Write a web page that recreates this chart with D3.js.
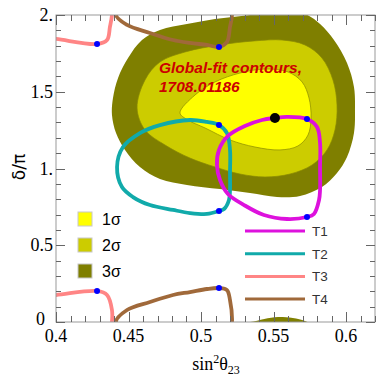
<!DOCTYPE html>
<html>
<head>
<meta charset="utf-8">
<script src="https://cdn.jsdelivr.net/npm/d3@7"></script>
<style>
  html, body { margin: 0; padding: 0; background: #fff; }
  svg { display: block; }
</style>
</head>
<body>
<svg id="chart" width="377" height="376"></svg>
<script>
// contour boundaries [sin^2(theta23), delta/pi]
const sigma3 = [
  [0.4717, 1.902], [0.4903, 1.941], [0.5097, 1.974], [0.5338, 2.000], [0.5531, 2.033],
  [0.5717, 2.007], [0.5821, 1.941], [0.5917, 1.837], [0.6007, 1.687], [0.6055, 1.531],
  [0.6062, 1.381], [0.6055, 1.231], [0.6007, 1.075], [0.5938, 0.971], [0.5834, 0.879],
  [0.5683, 0.821], [0.5524, 0.814], [0.5338, 0.840], [0.5131, 0.866], [0.4903, 0.893],
  [0.4717, 0.932], [0.4579, 1.010], [0.4476, 1.121], [0.4414, 1.231], [0.4386, 1.349],
  [0.4393, 1.459], [0.4428, 1.590], [0.4497, 1.720], [0.4593, 1.837]
];
const sigma2 = [
  [0.4559, 1.394], [0.4614, 1.577], [0.4717, 1.694], [0.4890, 1.759], [0.5131, 1.805],
  [0.5366, 1.831], [0.5559, 1.837], [0.5717, 1.805], [0.5834, 1.720], [0.5910, 1.577],
  [0.5938, 1.414], [0.5924, 1.251], [0.5869, 1.121], [0.5766, 1.023], [0.5614, 0.964],
  [0.5441, 0.945], [0.5269, 0.964], [0.5097, 1.010], [0.4924, 1.068], [0.4752, 1.153],
  [0.4614, 1.251]
];
const sigma1 = [
  [0.4855, 1.362], [0.4959, 1.479], [0.5097, 1.564], [0.5269, 1.622], [0.5441, 1.648],
  [0.5600, 1.629], [0.5697, 1.564], [0.5745, 1.459], [0.5759, 1.329], [0.5738, 1.218],
  [0.5669, 1.147], [0.5545, 1.121], [0.5372, 1.140], [0.5200, 1.186], [0.5028, 1.264],
  [0.4910, 1.316]
];
const bestFit = [0.5510, 1.329];

// model curves
const t1 = [
  [0.5510, 1.329], [0.5593, 1.336], [0.5731, 1.322], [0.5800, 1.270], [0.5821, 1.166],
  [0.5821, 1.010], [0.5821, 0.860], [0.5814, 0.795], [0.5779, 0.704], [0.5731, 0.684],
  [0.5593, 0.671], [0.5434, 0.697], [0.5297, 0.762], [0.5186, 0.834], [0.5131, 0.925],
  [0.5110, 1.023], [0.5124, 1.121], [0.5186, 1.212], [0.5303, 1.277], [0.5421, 1.316]
];
const t2 = [
  [0.5124, 1.283], [0.5179, 1.231], [0.5200, 1.121], [0.5200, 0.971], [0.5200, 0.860],
  [0.5193, 0.795], [0.5159, 0.736], [0.5124, 0.723], [0.5041, 0.704], [0.4924, 0.710],
  [0.4807, 0.730], [0.4648, 0.762], [0.4531, 0.814], [0.4455, 0.879], [0.4421, 1.010],
  [0.4462, 1.140], [0.4579, 1.231], [0.4717, 1.283], [0.4924, 1.316], [0.5041, 1.303]
];
// T3 and T4 wrap around delta = 0 (= 2)
const t3 = [
  [0.385, -0.140], [0.400, -0.156], [0.4283, -0.189], [0.4352, -0.163], [0.4372, -0.078],
  [0.4386, 0.000], [0.4386, 0.078], [0.4352, 0.176], [0.4283, 0.202], [0.400, 0.176],
  [0.385, 0.165]
];
const t4 = [
  [0.4414, 0.000], [0.4490, 0.078], [0.4648, 0.130], [0.4807, 0.176], [0.4924, 0.195],
  [0.5041, 0.215], [0.5124, 0.221], [0.5179, 0.208], [0.5200, 0.143], [0.5214, 0.000],
  [0.5200, -0.078], [0.5179, -0.176], [0.5124, -0.208], [0.5041, -0.195], [0.4924, -0.182],
  [0.4807, -0.163], [0.4648, -0.117], [0.4490, -0.065]
];
const blueDots = [
  [0.5731, 1.322], [0.5731, 0.684], [0.5124, 1.283], [0.5124, 0.723],
  [0.4283, 0.202], [0.4283, 1.811], [0.5124, 0.221], [0.5124, 1.792]
];

const xTicks = [0.4, 0.45, 0.5, 0.55, 0.6];
const xTickLabels = ['0.4', '0.45', '0.5', '0.55', '0.6'];
const yTicks = [0, 0.5, 1, 1.5, 2];
const yTickLabels = ['0', '0.5', '1.', '1.5', '2.'];

const sigmaNames = ['1σ', '2σ', '3σ'];
const sigmaColors = ['#ffff00', '#cccc00', '#7f7f00'];
const curveNames = ['T1', 'T2', 'T3', 'T4'];
const curveColors = ['#dd11dd', '#11aaaa', '#ff8585', '#a0693a'];

const svg = d3.select('#chart');
const pLeft = 56, pRight = 375, pTop = 15, pBottom = 322;

const x = d3.scaleLinear().domain([0.4, 0.62]).range([pLeft, pRight]);
const y = d3.scaleLinear().domain([0, 2]).range([pBottom, pTop]);

svg.append('defs').append('clipPath').attr('id', 'plot')
  .append('rect')
  .attr('x', pLeft).attr('y', pTop)
  .attr('width', pRight - pLeft).attr('height', pBottom - pTop);

const plot = svg.append('g').attr('clip-path', 'url(#plot)');

const closed = (shift) => d3.line()
  .x((d) => x(d[0]))
  .y((d) => y(d[1] + shift))
  .curve(d3.curveCatmullRomClosed.alpha(0.5));
const open = (shift) => d3.line()
  .x((d) => x(d[0]))
  .y((d) => y(d[1] + shift))
  .curve(d3.curveCatmullRom.alpha(0.5));

// contours (3 sigma also pokes through at delta = 0)
[sigma3, sigma2, sigma1].forEach((c, i) => {
  const col = sigmaColors[2 - i];
  [0, -2].forEach((shift) => {
    plot.append('path')
      .attr('d', closed(shift)(c))
      .attr('fill', col)
      .attr('stroke', i === 0 ? 'none' : '#8a8a00')
      .attr('stroke-width', 0.7);
  });
});

// T4, T3 wrap periodically
[0, 2].forEach((shift) => {
  plot.append('path').attr('d', closed(shift)(t4))
    .attr('fill', 'none').attr('stroke', curveColors[3]).attr('stroke-width', 3.8);
  plot.append('path').attr('d', open(shift)(t3))
    .attr('fill', 'none').attr('stroke', curveColors[2]).attr('stroke-width', 3.8);
});
plot.append('path').attr('d', closed(0)(t2))
  .attr('fill', 'none').attr('stroke', curveColors[1]).attr('stroke-width', 3.8);
plot.append('path').attr('d', closed(0)(t1))
  .attr('fill', 'none').attr('stroke', curveColors[0]).attr('stroke-width', 3.8);

plot.selectAll('circle.blue')
  .data(blueDots)
  .enter()
  .append('circle')
  .attr('class', 'blue')
  .attr('cx', (d) => x(d[0]))
  .attr('cy', (d) => y(d[1]))
  .attr('r', 3)
  .attr('fill', '#0000ff');

plot.append('circle')
  .attr('cx', x(bestFit[0])).attr('cy', y(bestFit[1]))
  .attr('r', 5).attr('fill', '#000');

// label
const note = svg.append('text')
  .attr('x', 159)
  .attr('font-family', 'Liberation Sans, Arial, sans-serif')
  .attr('font-size', 15.5)
  .attr('font-weight', 'bold')
  .attr('font-style', 'italic')
  .attr('fill', '#cc0000');
note.append('tspan').attr('x', 159).attr('y', 73).text('Global-fit contours,');
note.append('tspan').attr('x', 159).attr('y', 92).text('1708.01186');

// frame and ticks
svg.append('rect')
  .attr('x', pLeft).attr('y', pTop)
  .attr('width', pRight - pLeft).attr('height', pBottom - pTop)
  .attr('fill', 'none').attr('stroke', '#999').attr('stroke-width', 1);

const ticks = svg.append('g').attr('stroke', '#666').attr('stroke-width', 1);
d3.range(0.4, 0.6201, 0.01).forEach((v) => {
  const major = Math.abs(v * 20 - Math.round(v * 20)) < 1e-6;
  const len = major ? 10 : 6;
  const px = Math.round(x(v)) + 0.5;
  ticks.append('line').attr('x1', px).attr('x2', px).attr('y1', pBottom).attr('y2', pBottom - len);
  ticks.append('line').attr('x1', px).attr('x2', px).attr('y1', pTop).attr('y2', pTop + len);
});
d3.range(0, 2.001, 0.1).forEach((v) => {
  const major = Math.abs(v * 2 - Math.round(v * 2)) < 1e-6;
  const len = major ? 9 : 5;
  const py = Math.round(y(v)) + 0.5;
  ticks.append('line').attr('y1', py).attr('y2', py).attr('x1', pLeft).attr('x2', pLeft + len);
  ticks.append('line').attr('y1', py).attr('y2', py).attr('x1', pRight).attr('x2', pRight - len);
});

const serif = 'Liberation Serif, Times New Roman, serif';
svg.append('g')
  .selectAll('text')
  .data(xTicks)
  .enter()
  .append('text')
  .attr('x', (d) => x(d))
  .attr('y', 342)
  .attr('text-anchor', 'middle')
  .attr('font-family', serif)
  .attr('font-size', 18)
  .text((d, i) => xTickLabels[i]);

// the "0" sits tucked above-left of "0.4"
svg.append('g')
  .selectAll('text')
  .data(yTicks)
  .enter()
  .append('text')
  .attr('x', (d) => (d === 0 ? 45 : 53))
  .attr('y', (d) => (d === 0 ? y(d) + 3 : y(d) + 6))
  .attr('text-anchor', 'end')
  .attr('font-family', serif)
  .attr('font-size', 18)
  .text((d, i) => yTickLabels[i]);

// axis titles
const xt = svg.append('text')
  .attr('x', 216).attr('y', 370)
  .attr('text-anchor', 'middle')
  .attr('font-family', serif)
  .attr('font-size', 18);
xt.append('tspan').text('sin');
xt.append('tspan').attr('font-size', 12).attr('dy', -7).text('2');
xt.append('tspan').attr('dy', 7).text('θ');
xt.append('tspan').attr('font-size', 12).attr('dy', 4).text('23');

svg.append('text')
  .attr('transform', 'translate(25,167) rotate(-90)')
  .attr('text-anchor', 'middle')
  .attr('font-family', 'DejaVu Sans, sans-serif')
  .attr('font-size', 17)
  .text('δ/π');

// sigma legend
const sl = svg.append('g');
sigmaNames.forEach((name, i) => {
  const cy = 219 + i * 26;
  sl.append('rect')
    .attr('x', 78).attr('y', cy - 7).attr('width', 14).attr('height', 14)
    .attr('fill', sigmaColors[i]).attr('stroke', '#c8c8c8').attr('stroke-width', 1);
  sl.append('text')
    .attr('x', 102).attr('y', cy + 5.5)
    .attr('font-family', 'Liberation Sans, Arial, sans-serif')
    .attr('font-size', 16)
    .text(name);
});

// curve legend
const cl = svg.append('g');
curveNames.forEach((name, i) => {
  const cy = 231 + i * 22.7;
  cl.append('line')
    .attr('x1', 245).attr('x2', 305).attr('y1', cy).attr('y2', cy)
    .attr('stroke', curveColors[i]).attr('stroke-width', 3);
  cl.append('text')
    .attr('x', 312).attr('y', cy + 5)
    .attr('font-family', 'Liberation Sans, Arial, sans-serif')
    .attr('font-size', 13.5)
    .attr('fill', '#333')
    .text(name);
});
</script>
</body>
</html>
